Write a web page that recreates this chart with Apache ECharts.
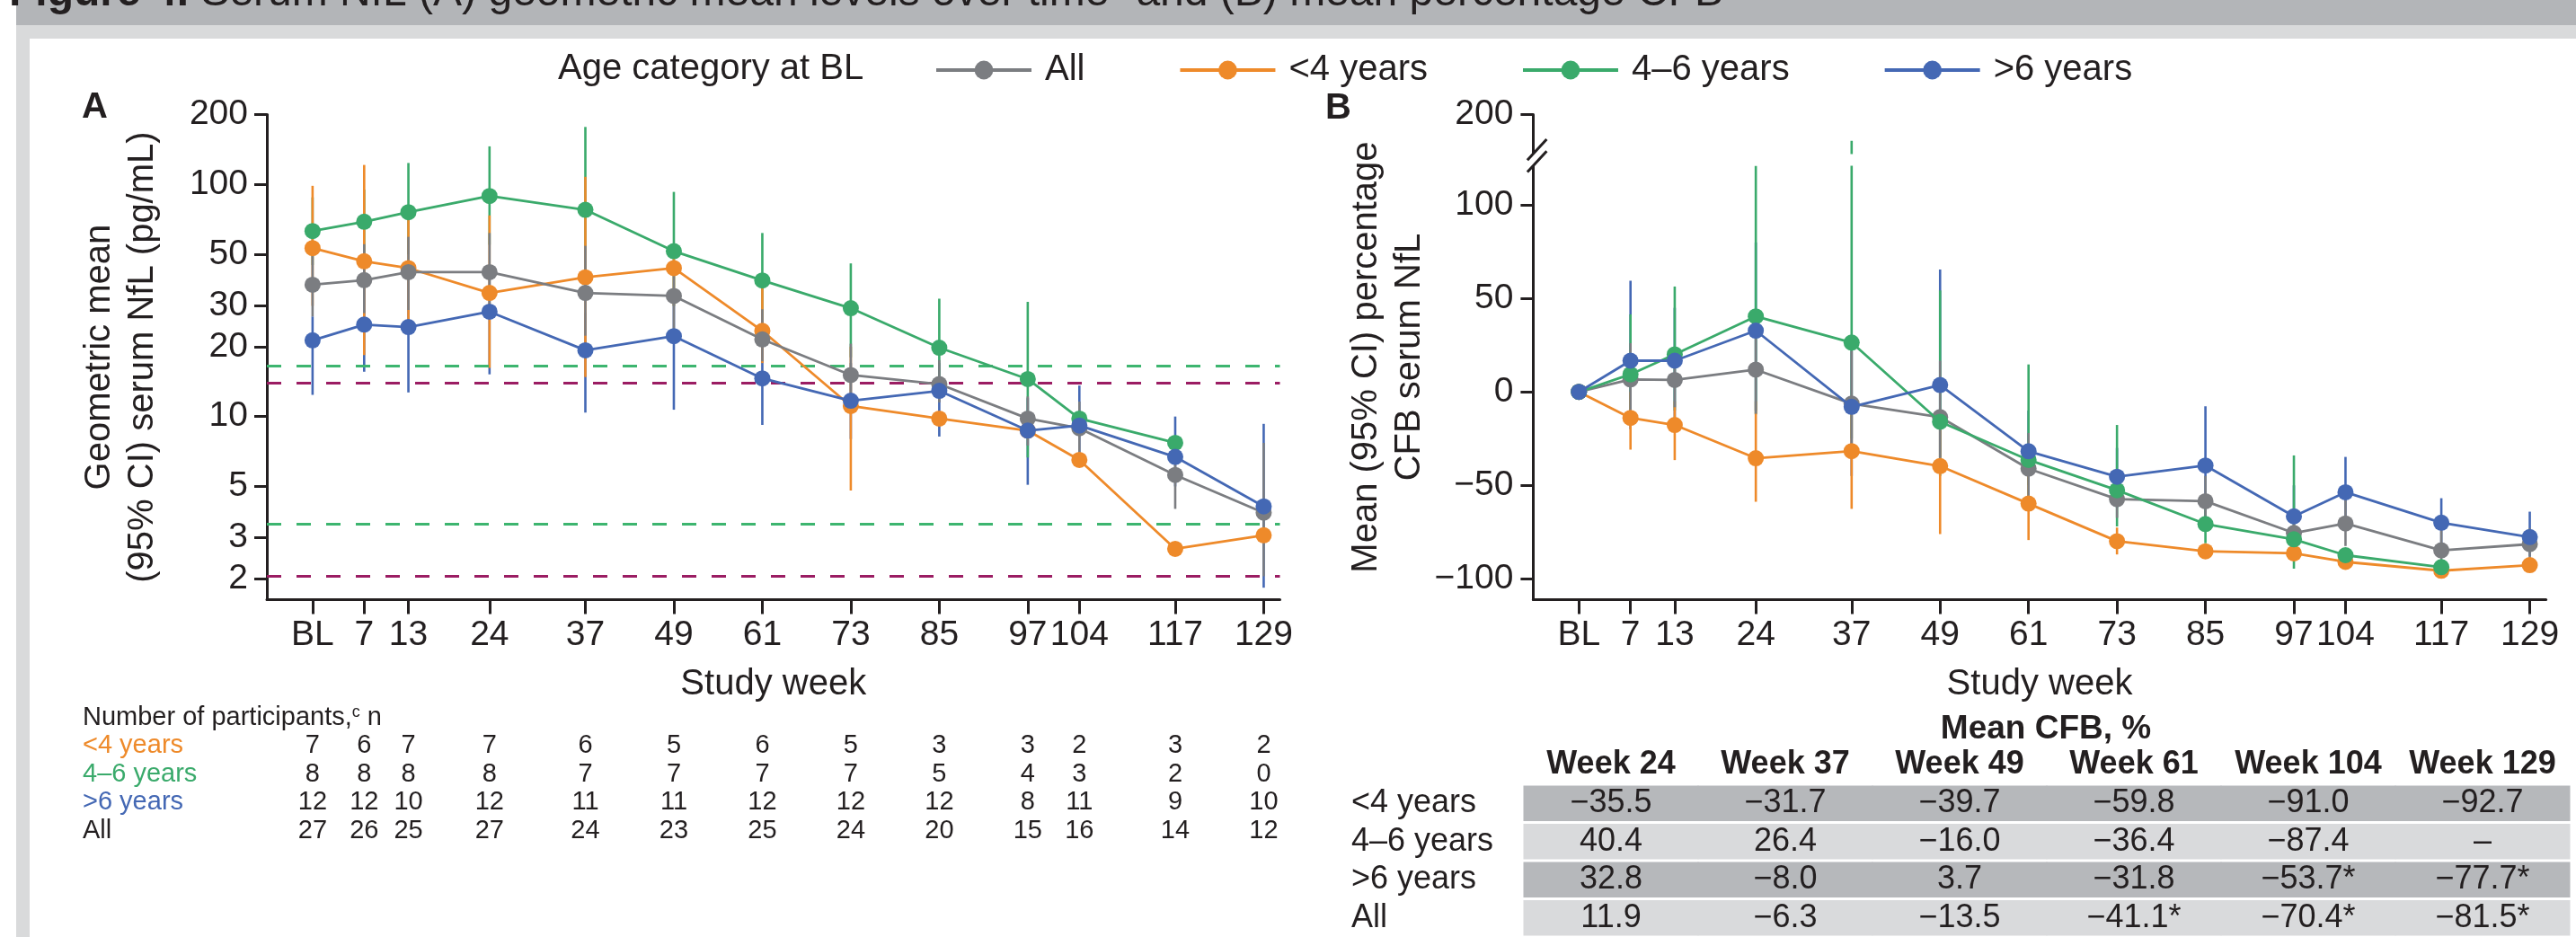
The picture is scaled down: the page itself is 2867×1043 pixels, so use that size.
<!DOCTYPE html>
<html><head><meta charset="utf-8">
<script src="https://cdn.jsdelivr.net/npm/echarts@6/dist/echarts.min.js"></script>
<style>html,body{margin:0;padding:0;background:#fff;}#c{width:2867px;height:1043px;}</style>
</head><body><div id="c"></div>
<script>
// ---------- data ----------
const weeks = [0,7,13,24,37,49,61,73,85,97,104,117,129];
const weekLabels = ['BL','7','13','24','37','49','61','73','85','97','104','117','129'];
const groups = ['All','<4 years','4–6 years','>6 years'];

// Panel A: geometric mean serum NfL (pg/mL)
const gmAll  = [37.0,38.7,41.9,41.9,34.1,33.1,21.5,15.1,13.8,9.8,8.9,5.6,3.85];
const gmLt4  = [53.2,46.7,43.6,34.1,39.8,43.6,23.4,11.1,9.8,8.7,6.5,2.69,3.08];
const gm4to6 = [63.0,69.1,76.0,89.2,77.8,51.6,38.6,29.3,19.8,14.5,9.8,7.7,null];
const gmGt6  = [21.3,24.9,24.3,28.3,19.3,22.2,14.6,11.7,12.9,8.7,9.15,6.7,4.1];
const gmAllLo  = [27.0,27.9,28.8,28,22.3,23.8,17.3,11,11.5,7.5,7.0,4.0,2.05];
const gmAllHi  = [49.5,55.3,59.5,61.8,54.4,41,29.0,20.6,17.5,12.2,11.6,7.56,7.7];
const gmLt4Lo  = [30,18.4,25,16.2,14.8,30,17,4.8,null,null,null,null,null];
const gmLt4Hi  = [98.7,121.4,71.4,73.6,107.9,50,36,20,null,null,null,null,null];
const gm4to6Lo = [45,50,50,55,40,30,25,18,12,6.66,null,null,null];
const gm4to6Hi = [88,95,123.8,146,177,92.9,61.8,45.7,32.2,31.2,null,null,null];
const gmGt6Lo  = [12.4,15.6,12.7,15.2,10.4,10.7,9.2,8,8.2,5.08,6.5,5.0,1.83];
const gmGt6Hi  = [27,38,40,45,28,33,21,17,17,12,13.6,10.0,9.3];
// reference range lines (pg/mL)
const refGreen = [16.6, 3.43];
const refMagenta = [13.9, 2.06];
const yTicksA = [2,3,5,10,20,30,50,100,200];

// Panel B: mean percentage CFB
const cfbAll  = [0,6.7,6.4,11.9,-6.3,-13.5,-41.1,-57.4,-58.5,-75.5,-70.4,-84.8,-81.5];
const cfbLt4  = [0,-13.9,-17.7,-35.5,-31.7,-39.7,-59.8,-79.9,-85.3,-86.4,-91.0,-95.7,-92.7];
const cfb4to6 = [0,9.4,20.1,40.4,26.4,-16.0,-36.4,-52.6,-70.7,-78.9,-87.4,-93.8,null];
const cfbGt6  = [0,16.7,16.7,32.8,-8.0,3.7,-31.8,-45.4,-39.4,-66.6,-53.7,-70.0,-77.7];
const cfbAllLo  = [null,-10.5,-8.2,-11.7,-31,-38,-58.7,-67.4,-72,-82,-82.5,-90,-89.7];
const cfbAllHi  = [null,26.1,20,32.1,22,16.7,-22,-48.5,-45,-68,-55,-68,-73];
const cfbLt4Lo  = [null,-30.9,-36.5,-58.8,-62.6,-76.1,-79.3,-87,null,null,null,null,null];
const cfbLt4Hi  = [null,0,-5,-5,-2,-10,-45,-72.6,null,null,null,null,null];
const cfb4to6Lo = [null,-15,-10,-12,-25,-45,-62,-72,-81,-94.6,null,null,null];
const cfb4to6Hi = [null,41.5,56.4,121,186,54.3,14.7,-17.7,-57,-34,null,null,null];
const cfbGt6Lo  = [null,-20,-15,-10,-45,-35,-50,-62,-70,-84,-70,-82,-88];
const cfbGt6Hi  = [null,59.5,45,80,30,65.5,-10,-30,-7.7,-50,-34.8,-56.9,-64.1];
const yTicksB = [-100,-50,0,50,100,200];

// Number of participants
const nRowNames = ['<4 years','4–6 years','>6 years','All'];
const nLt4  = [7,6,7,7,6,5,6,5,3,3,2,3,2];
const n4to6 = [8,8,8,8,7,7,7,7,5,4,3,2,0];
const nGt6  = [12,12,10,12,11,11,12,12,12,8,11,9,10];
const nAll  = [27,26,25,27,24,23,25,24,20,15,16,14,12];

// Mean CFB table
const tabCols = ['Week 24','Week 37','Week 49','Week 61','Week 104','Week 129'];
const tabLt4  = ['−35.5','−31.7','−39.7','−59.8','−91.0','−92.7'];
const tab4to6 = ['40.4','26.4','−16.0','−36.4','−87.4','–'];
const tabGt6  = ['32.8','−8.0','3.7','−31.8','−53.7*','−77.7*'];
const tabAll  = ['11.9','−6.3','−13.5','−41.1*','−70.4*','−81.5*'];

// ---------- style ----------
const INK = '#231f20';
const COL = {all:'#7b7d81', lt4:'#ee8a2a', mid:'#3aaa6b', gt6:'#4468b4'};
const FONT = 'Liberation Sans';
const REF_G = '#3db56f', REF_M = '#9b1d63';

const chart = echarts.init(document.getElementById('c'), null, {renderer:'canvas'});

function pts(vals){ return weeks.map((w,i)=>[w, vals[i]]).filter(d=>d[1]!=null); }
function ci(lo, hi){ return weeks.map((w,i)=>[w, lo[i], hi[i]]).filter(d=>d[1]!=null && d[2]!=null); }
function errSeries(color, lo, hi, ax, z){
  return {type:'custom', xAxisIndex:ax, yAxisIndex:ax, z, silent:true, data: ci(lo,hi),
    encode:{x:0, y:[1,2]},
    renderItem(params, api){
      const x = api.value(0);
      const p1 = api.coord([x, api.value(1)]);
      const p2 = api.coord([x, api.value(2)]);
      return {type:'line', shape:{x1:p1[0],y1:p1[1],x2:p2[0],y2:p2[1]}, style:{stroke:color, lineWidth:2.6}};
    }};
}
function lineSeries(name, color, vals, ax, z){
  return {type:'line', name, xAxisIndex:ax, yAxisIndex:ax, z, data: pts(vals), symbol:'circle', symbolSize:18,
    showSymbol:true, lineStyle:{color, width:2.8}, itemStyle:{color}, emphasis:{disabled:true}, silent:true};
}
const axisLineStyle = {show:true, onZero:false, lineStyle:{color:INK, width:3}};
function xAxisFor(gi){
  return {type:'value', gridIndex:gi, min:-6.2, max:131.2,
    axisLine: axisLineStyle,
    axisTick:{show:true, length:16, lineStyle:{color:INK, width:3}, customValues: weeks},
    axisLabel:{color:INK, fontFamily:FONT, fontSize:39, margin:20, customValues: weeks,
      formatter: v => weekLabels[weeks.indexOf(v)]},
    splitLine:{show:false},
    name:'Study week', nameLocation:'middle', nameGap:74,
    nameTextStyle:{color:INK, fontFamily:FONT, fontSize:40}};
}

const option = {
  animation:false,
  backgroundColor:'#fff',
  textStyle:{fontFamily:FONT},
  grid:[
    {left:297, top:127.6, width:1127.5, height:539.9, outerBoundsMode:'none'},
    {left:1706.4, top:127.6, width:1127.2, height:539.9, outerBoundsMode:'none'},
    {left:297, top:814, width:1127.5, height:127, outerBoundsMode:'none'},
    {left:1696, top:873, width:1164, height:170, outerBoundsMode:'none'}
  ],
  legend:{
    data: groups, left:1035, top:53, itemWidth:106, itemHeight:26, itemGap:104,
    selectedMode:false,
    lineStyle:{width:4},
    textStyle:{color:INK, fontFamily:FONT, fontSize:40, padding:[0,0,0,10]}
  },
  xAxis:[
    xAxisFor(0),
    xAxisFor(1),
    {type:'value', gridIndex:2, min:-6.2, max:131.2, show:false},
    {type:'category', gridIndex:3, data:tabCols, position:'top',
      axisLine:{show:false}, axisTick:{show:false},
      axisLabel:{interval:0, color:INK, fontFamily:FONT, fontSize:36, fontWeight:'bold', margin:4}}
  ],
  yAxis:[
    {type:'log', gridIndex:0, logBase:10, min:1.625, max:200,
      axisLine: axisLineStyle,
      axisTick:{show:true, length:14, lineStyle:{color:INK, width:3}, customValues: yTicksA},
      axisLabel:{color:INK, fontFamily:FONT, fontSize:39, margin:21, customValues: yTicksA, formatter: v => String(Math.round(v))},
      minorTick:{show:false}, splitLine:{show:false},
      name:'Geometric mean\n(95% CI) serum NfL (pg/mL)', nameLocation:'middle', nameGap:114, nameRotate:90,
      nameTextStyle:{color:INK, fontFamily:FONT, fontSize:40, lineHeight:48}},
    {type:'value', gridIndex:1, min:-111.2, max:200,
      breaks:[{start:121, end:179, gap:6.4}],
      breakArea:{show:true, itemStyle:{color:'#fff', borderColor:'#fff', borderWidth:0, opacity:1}, zigzagAmplitude:0, zigzagZ:100, expandOnClick:false},
      axisLine: axisLineStyle,
      axisTick:{show:true, length:14, lineStyle:{color:INK, width:3}, customValues: yTicksB},
      axisLabel:{color:INK, fontFamily:FONT, fontSize:39, margin:22, customValues: yTicksB, formatter: v => String(v).replace('-','−')},
      splitLine:{show:false},
      name:'Mean (95% CI) percentage\nCFB serum NfL', nameLocation:'middle', nameGap:93, nameRotate:90,
      nameTextStyle:{color:INK, fontFamily:FONT, fontSize:40, lineHeight:48}},
    {type:'category', gridIndex:2, data:nRowNames, inverse:true,
      axisLine:{show:false}, axisTick:{show:false},
      axisLabel:{interval:0, align:'left', margin:205, fontFamily:FONT, fontSize:29,
        formatter:(v,i)=>'{r'+i+'|'+v+'}',
        rich:{r0:{color:COL.lt4, fontSize:29, fontFamily:FONT}, r1:{color:COL.mid, fontSize:29, fontFamily:FONT},
              r2:{color:COL.gt6, fontSize:29, fontFamily:FONT}, r3:{color:INK, fontSize:29, fontFamily:FONT}}}},
    {type:'category', gridIndex:3, data:nRowNames, inverse:true,
      axisLine:{show:false}, axisTick:{show:false},
      axisLabel:{interval:0, align:'left', margin:192, color:INK, fontFamily:FONT, fontSize:36}}
  ],
  series:[
    // reference lines
    {type:'line', name:'ref', xAxisIndex:0, yAxisIndex:0, data:[], z:1, silent:true,
      markLine:{silent:true, symbol:['none','none'], label:{show:false},
        data:[
          {yAxis:refGreen[0], lineStyle:{color:REF_G, width:3, type:[16,17]}},
          {yAxis:refMagenta[0], lineStyle:{color:REF_M, width:3, type:[16,17]}},
          {yAxis:refGreen[1], lineStyle:{color:REF_G, width:3, type:[16,17]}},
          {yAxis:refMagenta[1], lineStyle:{color:REF_M, width:3, type:[16,17]}}
        ]}},
    // panel A error bars
    errSeries(COL.gt6, gmGt6Lo, gmGt6Hi, 0, 2),
    errSeries(COL.mid, gm4to6Lo, gm4to6Hi, 0, 3),
    errSeries(COL.lt4, gmLt4Lo, gmLt4Hi, 0, 4),
    errSeries(COL.all, gmAllLo, gmAllHi, 0, 5),
    // panel A lines
    lineSeries('<4 years', COL.lt4, gmLt4, 0, 6),
    lineSeries('All', COL.all, gmAll, 0, 7),
    lineSeries('4–6 years', COL.mid, gm4to6, 0, 8),
    lineSeries('>6 years', COL.gt6, gmGt6, 0, 9),
    // panel B error bars
    errSeries(COL.gt6, cfbGt6Lo, cfbGt6Hi, 1, 2),
    errSeries(COL.mid, cfb4to6Lo, cfb4to6Hi, 1, 3),
    errSeries(COL.lt4, cfbLt4Lo, cfbLt4Hi, 1, 4),
    errSeries(COL.all, cfbAllLo, cfbAllHi, 1, 5),
    // panel B lines
    lineSeries('<4 years', COL.lt4, cfbLt4, 1, 6),
    lineSeries('All', COL.all, cfbAll, 1, 7),
    lineSeries('4–6 years', COL.mid, cfb4to6, 1, 8),
    lineSeries('>6 years', COL.gt6, cfbGt6, 1, 9),
    // participants table
    {type:'custom', xAxisIndex:2, yAxisIndex:2, silent:true,
      data: [nLt4, n4to6, nGt6, nAll].flatMap((row, r) => weeks.map((w, i) => [w, r, row[i]])),
      renderItem(params, api){
        const p = api.coord([api.value(0), api.value(1)]);
        return {type:'text', x:p[0], y:p[1], style:{text:String(api.value(2)), font:'29px '+FONT, fill:INK, align:'center', verticalAlign:'middle'}};
      }},
    // CFB table
    {type:'custom', xAxisIndex:3, yAxisIndex:3, silent:true,
      data: [tabLt4, tab4to6, tabGt6, tabAll].flatMap((row, r) => row.map((t, c) => [c, r])),
      renderItem(params, api){
        const c = api.value(0), r = api.value(1);
        const rows = [tabLt4, tab4to6, tabGt6, tabAll];
        const p = api.coord([c, r]);
        const s = api.size([1, 1]);
        return {type:'group', children:[
          {type:'rect', shape:{x:p[0]-s[0]/2-0.5, y:p[1]-s[1]/2+1.5, width:s[0]+1, height:s[1]-3},
            style:{fill: r % 2 === 0 ? '#b6b8bb' : '#d9dadc'}},
          {type:'text', x:p[0], y:p[1], style:{text: rows[r][c], font:'36px '+FONT, fill:INK, align:'center', verticalAlign:'middle'}}
        ]};
      }}
  ],
  graphic:{elements:[
    {id:'bg', type:'rect', z:-10, shape:{x:18, y:0, width:2849, height:1043}, style:{fill:'#d9dadb'}, silent:true},
    {id:'white', type:'rect', z:-9, shape:{x:33, y:43, width:2834, height:1000}, style:{fill:'#fff'}, silent:true},
    {id:'bar', type:'rect', z:-8, shape:{x:18, y:0, width:2849, height:28}, style:{fill:'#b3b5b8'}, silent:true},
    {id:'title', type:'text', z:-7, x:10, y:-7, silent:true,
      style:{text:'{b|Figure 4.} Serum NfL (A) geometric mean levels over time{s|a} and (B) mean percentage CFB',
        font:'48px '+FONT, fill:INK, verticalAlign:'middle', align:'left',
        rich:{b:{fontWeight:'bold', fontSize:48, fontFamily:FONT, fill:INK}, s:{fontSize:30, fontFamily:FONT, verticalAlign:'top', fill:INK}}}},
    {id:'legTitle', type:'text', x:621, y:77, silent:true,
      style:{text:'Age category at BL', font:'40px '+FONT, fill:INK, verticalAlign:'middle', align:'left'}},
    {id:'lblA', type:'text', x:91, y:120, silent:true,
      style:{text:'A', font:'bold 40px '+FONT, fill:INK, verticalAlign:'middle', align:'left'}},
    {id:'lblB', type:'text', x:1475, y:121, silent:true,
      style:{text:'B', font:'bold 40px '+FONT, fill:INK, verticalAlign:'middle', align:'left'}},
    {id:'nHead', type:'text', x:92, y:799, silent:true,
      style:{text:'Number of participants,{s|c} n', font:'29px '+FONT, fill:INK, verticalAlign:'middle', align:'left',
        rich:{s:{fontSize:18, fontFamily:FONT, verticalAlign:'top', fill:INK}}}},
    {id:'cfbHead', type:'text', x:2277, y:812, silent:true,
      style:{text:'Mean CFB, %', font:'bold 37px '+FONT, fill:INK, verticalAlign:'middle', align:'center'}}
  ]}
};
chart.setOption(option);

// break marks on panel B y axis, positioned from the axis scale
const yUp = chart.convertToPixel({yAxisIndex:1}, 179);
const yDn = chart.convertToPixel({yAxisIndex:1}, 121);
const axX = chart.convertToPixel({xAxisIndex:1}, -6.2);
if (isFinite(yUp) && isFinite(yDn) && isFinite(axX)) {
  chart.setOption({graphic:{elements:[
    {id:'brkGap', type:'rect', z:150, silent:true, shape:{x:axX-4, y:Math.min(yUp,yDn), width:8, height:Math.abs(yDn-yUp)}, style:{fill:'#fff'}},
    {id:'brk1', type:'line', z:160, silent:true, shape:{x1:axX-6.5, y1:yUp+7, x2:axX+15, y2:yUp-16.3}, style:{stroke:INK, lineWidth:3}},
    {id:'brk2', type:'line', z:160, silent:true, shape:{x1:axX-6.5, y1:yDn+7, x2:axX+15, y2:yDn-16.3}, style:{stroke:INK, lineWidth:3}}
  ]}});
}
</script></body></html>
